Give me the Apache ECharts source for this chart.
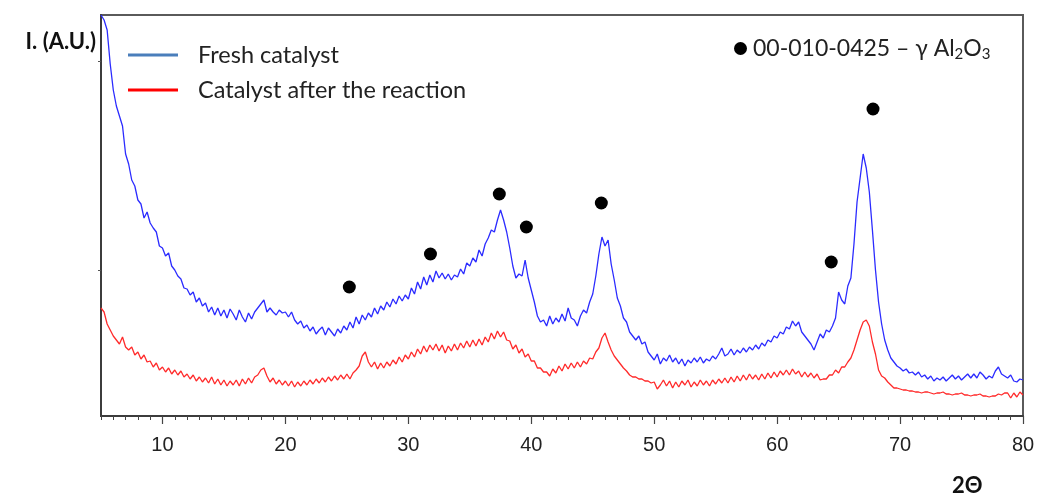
<!DOCTYPE html>
<html>
<head>
<meta charset="utf-8">
<script src="https://cdn.jsdelivr.net/npm/echarts@6/dist/echarts.min.js"></script>
<style>
  html, body { margin: 0; padding: 0; background: #fff; }
  #chart { width: 1038px; height: 496px; }
</style>
</head>
<body>
<div id="chart"></div>
<script>
// XRD patterns, 2θ from 5° to 80° sampled every 0.25°
const TWO_THETA_START = 5;
const TWO_THETA_STEP = 0.25;

// Intensity (arbitrary units), one row per 5° of 2θ
const freshCatalyst = [
  401,396,386,352,326,310,300,290,262,252,236,230,216,212,198,204,193,188,184,170,
  168,160,163,150,146,140,137,128,127,121,124,114,118,110,113,104,109,101,108,100,
  106,98,107,102,96,106,99,94,103,97,104,108,112,116,104,108,104,101,106,103,
  104,99,104,96,92,95,88,91,85,89,82,86,89,81,88,84,80,87,83,90,
  86,94,88,99,92,101,96,103,99,108,102,110,106,114,109,117,112,120,115,121,
  117,128,122,134,127,139,131,141,134,145,138,143,137,142,136,141,139,147,142,153,
  150,158,154,166,160,172,178,186,184,196,206,196,184,168,150,138,142,140,156,138,
  126,114,100,94,96,90,100,92,98,94,102,95,108,98,96,90,100,106,103,114,
  122,140,162,179,170,176,152,136,118,110,98,94,84,80,76,80,72,74,64,60,
  56,62,52,58,55,61,54,58,52,57,50,56,53,58,54,59,53,57,55,60,
  57,62,68,60,62,67,61,66,63,68,64,69,66,71,67,73,70,76,74,80,
  78,84,82,89,87,95,90,94,84,80,76,72,66,74,82,78,86,84,90,98,
  124,116,112,130,138,172,214,238,262,248,224,186,146,114,92,76,66,58,54,50,
  48,45,47,43,44,41,44,39,41,37,40,35,38,36,39,35,38,41,37,40,
  36,39,42,38,42,38,44,41,37,40,38,45,49,42,40,38,41,35,34,37,
  36
];

const usedCatalyst = [
  108,104,92,86,80,76,72,79,69,66,69,61,64,57,61,54,55,49,53,46,
  49,44,48,42,46,41,45,39,42,37,41,35,39,34,38,33,39,32,37,31,
  36,30,35,31,36,30,37,32,38,33,39,41,46,48,40,34,38,32,36,31,
  35,30,35,29,34,30,35,31,36,32,37,33,38,34,39,35,40,36,41,37,
  42,37,43,46,50,60,64,54,49,54,47,53,48,54,50,56,52,59,54,61,
  57,64,59,67,62,70,64,71,66,72,65,71,63,70,65,72,66,73,68,75,
  69,76,70,77,71,79,74,83,77,85,79,84,76,75,67,71,63,67,59,62,
  55,55,48,48,44,44,40,47,43,50,45,52,47,53,48,54,49,55,52,58,
  57,64,68,78,83,74,66,60,56,52,48,45,41,39,39,37,37,35,35,33,
  34,27,31,36,30,35,28,34,29,35,31,36,29,34,30,36,31,35,30,36,
  32,37,33,38,33,39,34,40,35,41,36,42,37,41,36,42,37,43,38,44,
  39,45,41,46,41,47,42,45,39,44,39,43,38,42,36,37,37,41,41,46,
  43,49,49,54,58,66,76,86,94,96,90,74,62,46,40,38,34,31,28,28,
  27,26,26,25,25,24,24,23,24,24,23,22,23,23,24,22,22,21,22,22,
  23,21,21,20,21,21,22,20,20,19,20,20,22,21,23,23,18,23,19,24,
  21
];

// Reference reflections of γ-Al2O3 (card 00-010-0425), marked above the peaks
const refPeak2Theta = [25.2, 31.8, 37.4, 39.6, 45.7, 64.4, 67.8];
const refPeakMark   = [129, 162, 222, 189, 213, 154, 307];

const xTickLabels = [10, 20, 30, 40, 50, 60, 70, 80];
const yTickValues = [146, 355];

const SERIES_FRESH = 'Fresh catalyst';
const SERIES_USED = 'Catalyst after the reaction';
const SERIES_REF = '00-010-0425';

const toPairs = arr => arr.map((v, i) => [TWO_THETA_START + i * TWO_THETA_STEP, v]);

const chart = echarts.init(document.getElementById('chart'), null, { renderer: 'canvas' });

const labelFont = 'Lato, "Open Sans", sans-serif';

chart.setOption({
  animation: false,
  backgroundColor: '#ffffff',
  grid: {
    left: 101, right: 15, top: 15, bottom: 80,
    show: true, borderColor: '#5a5a5a', borderWidth: 2, backgroundColor: 'transparent'
  },
  legend: [
    {
      orient: 'vertical', left: 123, top: 38,
      icon: 'rect', itemWidth: 50, itemHeight: 3, itemGap: 11,
      textStyle: { fontFamily: labelFont, fontSize: 23.5, color: '#222', padding: [0, 0, 0, 15], lineHeight: 24 },
      data: [
        { name: SERIES_FRESH, itemStyle: { color: '#4a7ebb', opacity: 1 } },
        { name: SERIES_USED, itemStyle: { color: '#ff0000', opacity: 1 } }
      ]
    },
    {
      left: 729, top: 32,
      icon: 'circle', itemWidth: 13, itemHeight: 13, itemGap: 0,
      textStyle: {
        fontFamily: labelFont, fontSize: 23, color: '#222', padding: [0, 0, 0, 1],
        rich: {
          sub: { fontFamily: labelFont, fontSize: 15, color: '#222', padding: [12, 0, 0, 0] }
        }
      },
      formatter: () => '00-010-0425 \u2013 \u03b3 Al{sub|2}O{sub|3}',
      data: [{ name: SERIES_REF, itemStyle: { color: '#000', opacity: 1 } }]
    }
  ],
  xAxis: [
    {
      type: 'value', min: 5, max: 80, interval: 1,
      axisLine: { show: true, onZero: false, lineStyle: { color: '#3c3c3c', width: 2 } },
      axisTick: { show: true, length: 4, lineStyle: { color: '#444', width: 1 } },
      axisLabel: { show: false },
      splitLine: { show: false }
    },
    {
      type: 'value', min: 5, max: 80, position: 'bottom',
      axisLine: { show: false },
      axisTick: { show: true, customValues: xTickLabels, length: 8, lineStyle: { color: '#444', width: 1.2 } },
      axisLabel: {
        show: true, customValues: xTickLabels, margin: 19,
        fontFamily: '"Liberation Sans", Arial, sans-serif', fontSize: 20, color: '#222'
      },
      splitLine: { show: false }
    }
  ],
  yAxis: {
    type: 'value', min: 0, max: 401,
    axisLine: { show: true, onZero: false, lineStyle: { color: '#3c3c3c', width: 2 } },
    axisTick: { show: true, customValues: yTickValues, length: 3, lineStyle: { color: '#555' } },
    axisLabel: { show: false },
    splitLine: { show: false }
  },
  series: [
    {
      name: SERIES_FRESH, type: 'line', xAxisIndex: 0,
      data: toPairs(freshCatalyst),
      showSymbol: false, symbol: 'none',
      lineStyle: { color: '#2b2bff', width: 1.3 },
      itemStyle: { color: '#2b2bff' }
    },
    {
      name: SERIES_USED, type: 'line', xAxisIndex: 0,
      data: toPairs(usedCatalyst),
      showSymbol: false, symbol: 'none',
      lineStyle: { color: '#ff2a2a', width: 1.3 },
      itemStyle: { color: '#ff2a2a' }
    },
    {
      name: SERIES_REF, type: 'scatter', xAxisIndex: 0,
      data: refPeak2Theta.map((x, i) => [x, refPeakMark[i]]),
      symbol: 'circle', symbolSize: 13,
      itemStyle: { color: '#000', opacity: 1 }
    }
  ],
  graphic: [
    {
      type: 'text', right: 1038 - 96, top: 31,
      style: { text: 'I. (A.U.)', font: 'bold 22px ' + labelFont, fill: '#111', textAlign: 'right' }
    },
    {
      type: 'text', left: 952, top: 475,
      style: { text: '2\u0398', font: 'bold 22px ' + labelFont, fill: '#111' }
    }
  ]
});
</script>
</body>
</html>
